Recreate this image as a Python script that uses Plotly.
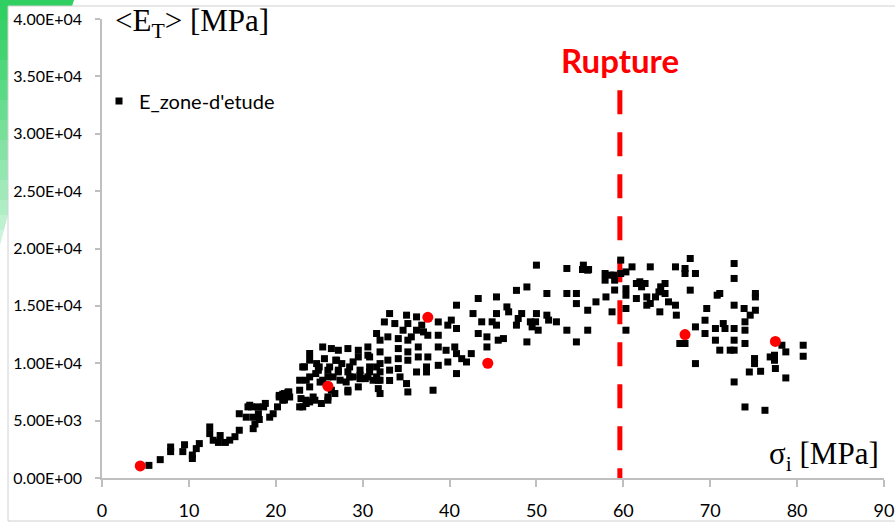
import plotly.graph_objects as go

# Measured modulus <E_T> against applied stress sigma_i (both in MPa)
sigma_i = [
    5.4, 6.7, 7.9, 7.9, 9.3, 9.5, 10.4, 10.4, 10.85, 11.2, 12.4, 12.4, 12.8, 13.4, 13.6,
    14.2, 14.7, 15.3, 15.8, 15.8, 16.6, 16.8, 17.4, 17.4, 17.6, 18.0, 18.6, 18.8, 19.3, 19.7,
    20.2, 20.4, 20.8, 21.0, 21.5, 17.2, 17.0, 17.9, 18.1, 20.4, 20.8, 21.0, 21.4, 21.6,
    22.75, 22.75, 22.75, 22.9, 23.3, 23.5, 23.9, 23.9, 23.9, 23.9, 23.9, 24.5, 24.7, 24.9, 25.1,
    25.25, 25.4, 25.6, 26.0, 26.0, 26.0, 26.4, 26.4, 26.8, 26.9, 27.2, 27.2, 27.4, 27.6, 28.1,
    28.3, 28.3, 28.3, 28.9, 28.9, 29.5, 29.5, 29.5, 29.7, 30.3, 30.6, 30.6, 30.8, 31.2, 31.6,
    31.6, 31.8, 31.6, 23.1, 23.5, 24.3, 26.0, 26.6, 27.0, 28.3, 28.5, 29.7, 30.6, 30.8, 31.8,
    30.8, 29.7, 28.5, 27.2, 26.2, 25.4, 25.0, 24.6, 23.5, 23.1,
    32.0, 32.0, 32.0, 32.0, 32.0, 32.0, 32.5, 33.1, 32.9, 32.9, 33.1, 33.1, 33.7, 34.1, 34.1,
    34.1, 34.1, 34.3, 34.65, 35.05, 35.2, 35.2, 35.2, 35.2, 35.05, 35.2, 35.6, 36.2, 36.2, 36.4,
    36.4, 36.2, 36.8, 37.0, 37.5, 37.5, 37.35, 37.35, 38.1, 38.7, 38.7, 38.7, 38.7, 39.8, 39.6,
    39.8, 40.2, 40.8, 40.8, 40.6, 40.8, 40.8, 41.4, 41.95, 42.5, 42.7, 43.3, 43.3, 43.7, 44.3,
    44.3, 44.9,
    45.4, 45.4, 45.4, 45.6, 46.6, 46.8, 46.2, 47.7, 47.9, 47.7, 48.3, 48.9, 48.9, 49.3, 49.5,
    49.9, 50.0, 50.0, 50.2, 51.2, 51.2, 51.4, 52.3, 53.5, 53.5, 53.5, 54.6, 54.6, 54.6, 55.4,
    55.9, 55.9, 55.9, 56.85, 55.3, 56.0,
    57.9, 57.9, 58.0, 58.5, 58.7, 58.9, 59.0, 59.0, 59.7, 59.7, 60.3, 60.3, 60.3, 60.3, 60.3,
    61.0, 61.5, 61.5, 61.9, 62.1, 62.5, 62.7, 62.7, 63.1, 63.1, 63.7, 64.1, 64.3, 64.2, 64.8,
    64.8, 65.2, 66.0, 66.0, 66.1, 66.5, 67.1, 67.1, 67.1, 67.7, 67.7, 68.3, 68.3, 68.3, 69.4,
    69.4, 69.6, 70.6, 70.6, 70.8, 71.1, 71.1, 71.5, 71.7, 72.3, 72.75, 72.75, 72.75, 72.75, 72.75,
    72.75, 72.75, 73.9, 74.0, 74.0, 74.0, 74.0, 74.6, 75.2, 75.2, 75.2, 74.5, 75.1, 75.1, 75.8,
    76.3, 76.9, 77.4, 77.4, 77.5, 78.25, 78.7, 78.7, 80.7, 80.7,
]
e_t = [
    1100, 1600, 2300, 2700, 2300, 2900, 2000, 1700, 2560, 3000, 4450, 3870, 3290, 3100, 3700,
    3100, 3300, 3600, 4160, 5600, 5300, 6200, 5300, 4300, 4700, 5600, 6200, 6500, 5300, 5600,
    6200, 7200, 7300, 6800, 7500, 6200, 6340, 6200, 5100, 7060, 6780, 7360, 7480, 7060,
    8520, 7650, 6200, 6920, 9680, 6490, 10850, 10270, 8810, 7940, 6630, 6780, 9970, 9390, 8360,
    6490, 11420, 10400, 9390, 8810, 6780, 11280, 7650, 7360, 10270, 11130, 9250, 8520, 9970, 8370,
    9250, 7650, 11280, 10120, 8810, 11130, 10550, 7940, 8950, 8660, 11420, 10700, 9250, 8520, 12590,
    8810, 7790, 9680, 9680, 8520, 7060, 7060, 8810, 10260, 7500, 8810, 9400, 8810, 10550, 8520,
    9680, 8660, 9680, 9400, 9680, 8520, 9680, 9100, 6780, 6200,
    12010, 10990, 9970, 9250, 8520, 7360, 13600, 14330, 12300, 10270, 9400, 8500, 13460, 12150, 11280,
    10400, 9540, 8810, 12880, 14190, 13460, 12010, 10990, 10260, 8230, 7500, 12300, 14040, 12880, 11420,
    10550, 9240, 13320, 12730, 12440, 10550, 9680, 9240, 7650, 13600, 12440, 11420, 9820, 13320, 11130,
    10110, 13760, 15060, 13030, 11420, 10840, 9100, 10400, 10110, 10840, 14330, 15640, 12590, 13610, 12300,
    11420, 13610,
    15780, 14330, 13320, 12010, 14910, 14480, 12150, 16350, 13900, 13320, 14330, 11860, 16650, 13610, 13170,
    13610, 14330, 18550, 12880, 16080, 14190, 13760, 13610, 18260, 16080, 12880, 16080, 15200, 11860, 18550,
    18110, 14620, 12880, 15350, 18170, 18170,
    17820, 17240, 15780, 17680, 14480, 17680, 17240, 16380, 18990, 17820, 17960, 16500, 15930, 14770, 12880,
    18400, 16950, 15640, 17100, 16660, 16950, 15780, 15060, 18400, 15210, 15780, 16220, 16660, 14480, 16950,
    16080, 15350, 18400, 15060, 14190, 11720, 11720, 18260, 17820, 19130, 16370, 17820, 13170, 9970, 13750,
    12590, 14770, 13030, 12010, 15930, 16080, 11140, 13460, 13030, 11140, 18690, 17390, 15060, 13030, 12010,
    11140, 8370, 14770, 13610, 12880, 11720, 6190, 14190, 16080, 15780, 14620, 9240, 10410, 9970, 9300,
    5900, 10550, 10700, 10260, 9540, 11570, 10990, 8720, 11570, 10610,
]

# Highlighted reference points
ref_sigma = [4.4, 26.0, 37.5, 44.4, 67.1, 77.5]
ref_e = [1050, 8000, 14000, 10000, 12500, 11900]

# Stress at rupture and the height of the marker line
rupture_sigma = 59.6
rupture_top = 33800
rupture_label_y = 36450

x_ticks = [0, 10, 20, 30, 40, 50, 60, 70, 80, 90]
y_ticks = [0, 5000, 10000, 15000, 20000, 25000, 30000, 35000, 40000]
y_ticklabels = ["0.00E+00", "5.00E+03", "1.00E+04", "1.50E+04", "2.00E+04",
                "2.50E+04", "3.00E+04", "3.50E+04", "4.00E+04"]

# Figure geometry (pixels)
FIG_W, FIG_H = 895, 522
M_L, M_R, M_T, M_B = 102, 11, 19, 44
PW, PH = FIG_W - M_L - M_R, FIG_H - M_T - M_B


def px(x):
    return (x - M_L) / PW


def py(y):
    return 1 - (y - M_T) / PH


fig = go.Figure()

fig.add_trace(go.Scatter(
    x=[rupture_sigma, rupture_sigma], y=[rupture_top, 0], mode="lines",
    line=dict(color="#ff0000", width=5, dash="24px,18px"),
    showlegend=False, hoverinfo="skip", cliponaxis=False,
))
fig.add_trace(go.Scatter(
    x=sigma_i, y=e_t, mode="markers", name="E_zone-d'etude",
    marker=dict(symbol="square", size=7, color="#000000"),
))
fig.add_trace(go.Scatter(
    x=ref_sigma, y=ref_e, mode="markers", showlegend=False,
    marker=dict(symbol="circle", size=11, color="#ff0000"),
))

# Green slide decoration in the top-left corner, drawn as horizontal bands
shapes = []
band_edges = [0, 20, 40, 60, 80, 100, 120, 140, 160, 180, 200, 215, 230, 245]
band_colors = ["#2fcf62", "#38d169", "#43d471", "#4fd77b", "#5bda85", "#68dd8f", "#76e099",
               "#84e3a4", "#92e6af", "#a0eaba", "#aeeec5", "#bdf1d0", "#ccf4db"]


def right_edge(y):
    if y <= 215:
        return 74 - 66 * y / 215
    return 8 - 8 * (y - 215) / 30


for (y0, y1), col in zip(zip(band_edges[:-1], band_edges[1:]), band_colors):
    path = "M {} {} L {} {} L {} {} L {} {} Z".format(
        px(0), py(y0), px(right_edge(y0)), py(y0),
        px(right_edge(y1)), py(y1), px(0), py(y1))
    shapes.append(dict(type="path", xref="paper", yref="paper", path=path,
                       fillcolor=col, line=dict(width=0), layer="below"))

# White chart area with a light border
shapes.append(dict(type="rect", xref="paper", yref="paper",
                   x0=px(8), y0=py(6), x1=px(905), y1=py(521),
                   fillcolor="#ffffff", line=dict(color="#d0d0d0", width=1), layer="below"))

fig.update_layout(
    width=FIG_W, height=FIG_H,
    margin=dict(l=M_L, r=M_R, t=M_T, b=M_B, pad=0, autoexpand=False),
    paper_bgcolor="#ffffff", plot_bgcolor="rgba(0,0,0,0)",
    shapes=shapes,
    font=dict(family="Lato, sans-serif", color="#000000"),
    showlegend=True,
    legend=dict(x=px(99), y=py(101), xanchor="left", yanchor="middle",
                bgcolor="rgba(0,0,0,0)", font=dict(size=20, family="Lato", color="#000000"),
                itemsizing="trace"),
    annotations=[
        dict(text="Rupture", x=rupture_sigma, y=rupture_label_y, xref="x", yref="y",
             showarrow=False, font=dict(family="Lato", size=33, color="#ff0000", weight="bold")),
        dict(text="&lt;E<sub>T</sub>&gt; [MPa]", x=px(113), y=py(23), xref="paper", yref="paper",
             xanchor="left", yanchor="middle", showarrow=False,
             font=dict(family="Liberation Serif, serif", size=31, color="#000000")),
        dict(text="σ<sub>i</sub> [MPa]", x=px(881), y=py(456), xref="paper", yref="paper",
             xanchor="right", yanchor="middle", showarrow=False,
             font=dict(family="Liberation Serif, serif", size=31, color="#000000")),
    ],
)

fig.update_xaxes(
    range=[0, 90], tickvals=x_ticks, showgrid=False, zeroline=False, automargin=False,
    showline=True, linecolor="#bfbfbf", linewidth=1.5,
    ticks="outside", ticklen=7, tickcolor="#bfbfbf", tickwidth=1.5,
    tickfont=dict(family="Lato", size=18, color="#000000"), ticklabelstandoff=9,
)
fig.update_yaxes(
    range=[0, 40000], tickvals=y_ticks, ticktext=y_ticklabels, showgrid=False, zeroline=False,
    automargin=False,
    showline=True, linecolor="#bfbfbf", linewidth=1.5,
    ticks="outside", ticklen=5, tickcolor="#bfbfbf", tickwidth=1.5,
    tickfont=dict(family="Lato", size=16, color="#000000"), ticklabelstandoff=10,
)

fig.write_html("out.html")
